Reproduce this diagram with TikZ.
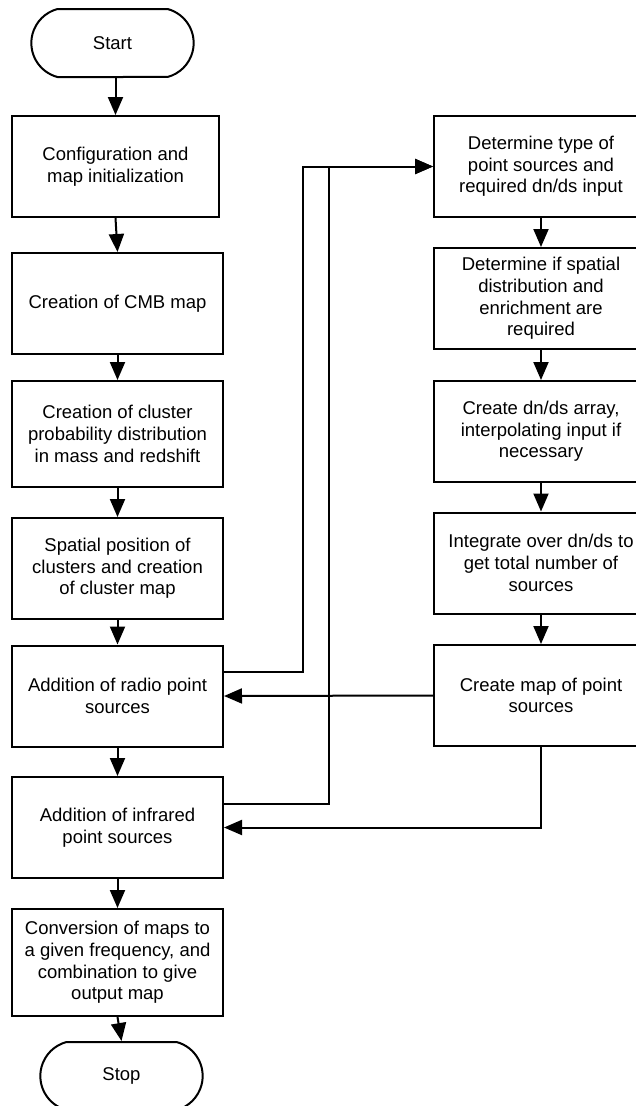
\documentclass[tikz,border=0pt]{standalone}
\usepackage{fontspec}
\setmainfont{Liberation Sans}
\usetikzlibrary{arrows.meta,shapes.misc}

\begin{document}
\begin{tikzpicture}[x=1pt, y=-1pt, line width=2pt,
        every node/.style={font=\fontsize{18.5}{21.7}\selectfont, align=center},
        box/.style={draw, rectangle, inner sep=0pt, minimum width=211pt, minimum height=101pt},
        widebox/.style={box, minimum width=214pt},
        terminal/.style={draw, rounded rectangle, rounded rectangle arc length=150,
            minimum width=169pt, minimum height=68pt},
        flow/.style={-{Triangle[length=18pt,width=15pt]}}]
                \useasboundingbox (0,0) rectangle (636,1106);
                \clip (0,0) rectangle (636,1106);
                \node[terminal] (start) at (112.5,43) {Start};
                \node[box, minimum width=207pt] (config) at (115.5,166.5) {Configuration and\\map initialization};
                \node[box] (cmb) at (117.5,303.5) {Creation of CMB map};
                \node[box, minimum height=106pt] (prob) at (117.5,434) {Creation of cluster\\probability distribution\\in mass and redshift};
                \node[box] (spatial) at (117.5,568.5) {Spatial position of\\clusters and creation\\of cluster map};
                \node[box] (radio) at (117.5,696) {Addition of radio point\\sources};
                \node[box] (infrared) at (117.5,827.5) {Addition of infrared\\point sources};
                \node[box, minimum height=107pt] (convert) at (117.5,962.5) {Conversion of maps to\\a given frequency, and\\combination to give\\output map};
                \node[terminal] (stop) at (121.5,1076) {Stop};
                \node[widebox] (type) at (541,166.5) {Determine type of\\point sources and\\required dn/ds input};
                \node[widebox] (enrich) at (541,298.5) {Determine if spatial\\distribution and\\enrichment are\\required};
                \node[widebox] (dnds) at (541,431.5) {Create dn/ds array,\\interpolating input if\\necessary};
                \node[widebox] (integ) at (541,563) {Integrate over dn/ds to\\get total number of\\sources};
                \node[widebox] (psmap) at (541,695.5) {Create map of point\\sources};
                \draw[flow] (start.south -| config) -- (config.north);
                \foreach \from/\to in {config/cmb, cmb/prob, prob/spatial, spatial/radio,
                        radio/infrared, infrared/convert, convert/stop,
                        type/enrich, enrich/dnds, dnds/integ, integ/psmap}
                    \draw[flow] (\from.south) -- (\to.north);
                \coordinate (outer) at (303,0);
                \coordinate (inner) at (329,0);
                \draw[flow] ([yshift=24pt]radio.east) -| (outer |- type.west) -- (type.west);
                \draw[flow] ([yshift=24pt]infrared.east) -| (inner |- type.west) -- (type.west);
                \draw[flow] (psmap.west) -- (radio.east);
                \draw[flow] (psmap.south) |- (infrared.east);
            \end{tikzpicture}
\end{document}
